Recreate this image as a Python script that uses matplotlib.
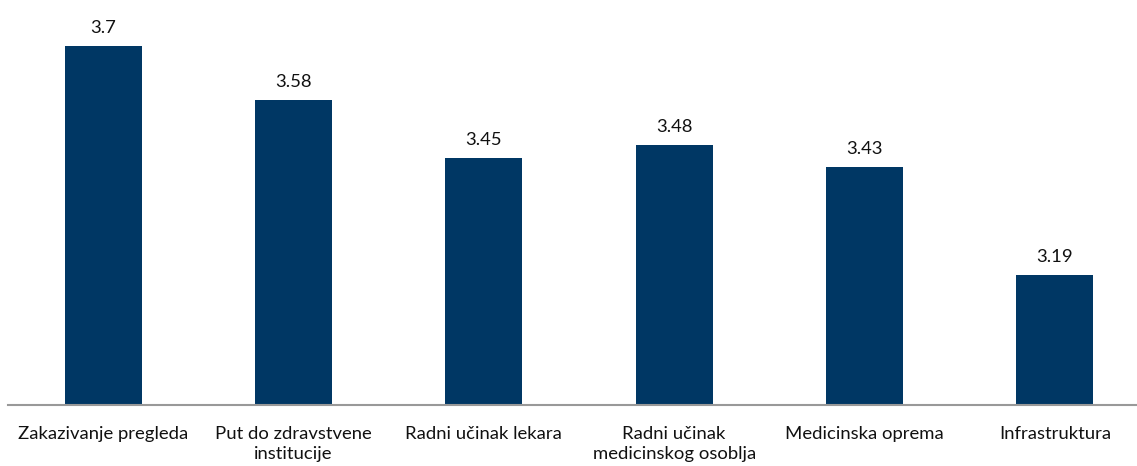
import matplotlib
matplotlib.use("Agg")
from matplotlib import pyplot as plt

categories = ["Zakazivanje pregleda", "Put do zdravstvene\ninstitucije",
              "Radni učinak lekara", "Radni učinak\nmedicinskog osoblja",
              "Medicinska oprema", "Infrastruktura"]
values = [3.7, 3.58, 3.45, 3.48, 3.43, 3.19]
labels = ["3.7", "3.58", "3.45", "3.48", "3.43", "3.19"]

plt.rcParams['font.family'] = ['Lato', 'DejaVu Sans']

fig = plt.figure(figsize=(11.37, 4.66), dpi=100)
ax = fig.add_axes([8 / 1137, 61 / 466, 1142 / 1137, 404 / 466])

x = list(range(len(categories)))
bars = ax.bar(x, values, width=0.405, color="#003764")

for xi, v, lab in zip(x, values, labels):
    ax.text(xi, v + 0.022, lab, ha="center", va="bottom", fontsize=13.3, color="#111111")

ax.set_xlim(-0.5, 5.5)
ax.set_ylim(2.9, 3.8)
ax.set_xticks(x)
ax.set_xticklabels(categories, fontsize=13.3, color="#111111", linespacing=1.3)
ax.tick_params(axis="x", length=0, pad=15)
ax.set_yticks([])
for side in ["top", "right", "left"]:
    ax.spines[side].set_visible(False)
ax.spines["bottom"].set_color("#999999")
ax.spines["bottom"].set_linewidth(1.5)

fig.savefig("out.png", dpi=100)
